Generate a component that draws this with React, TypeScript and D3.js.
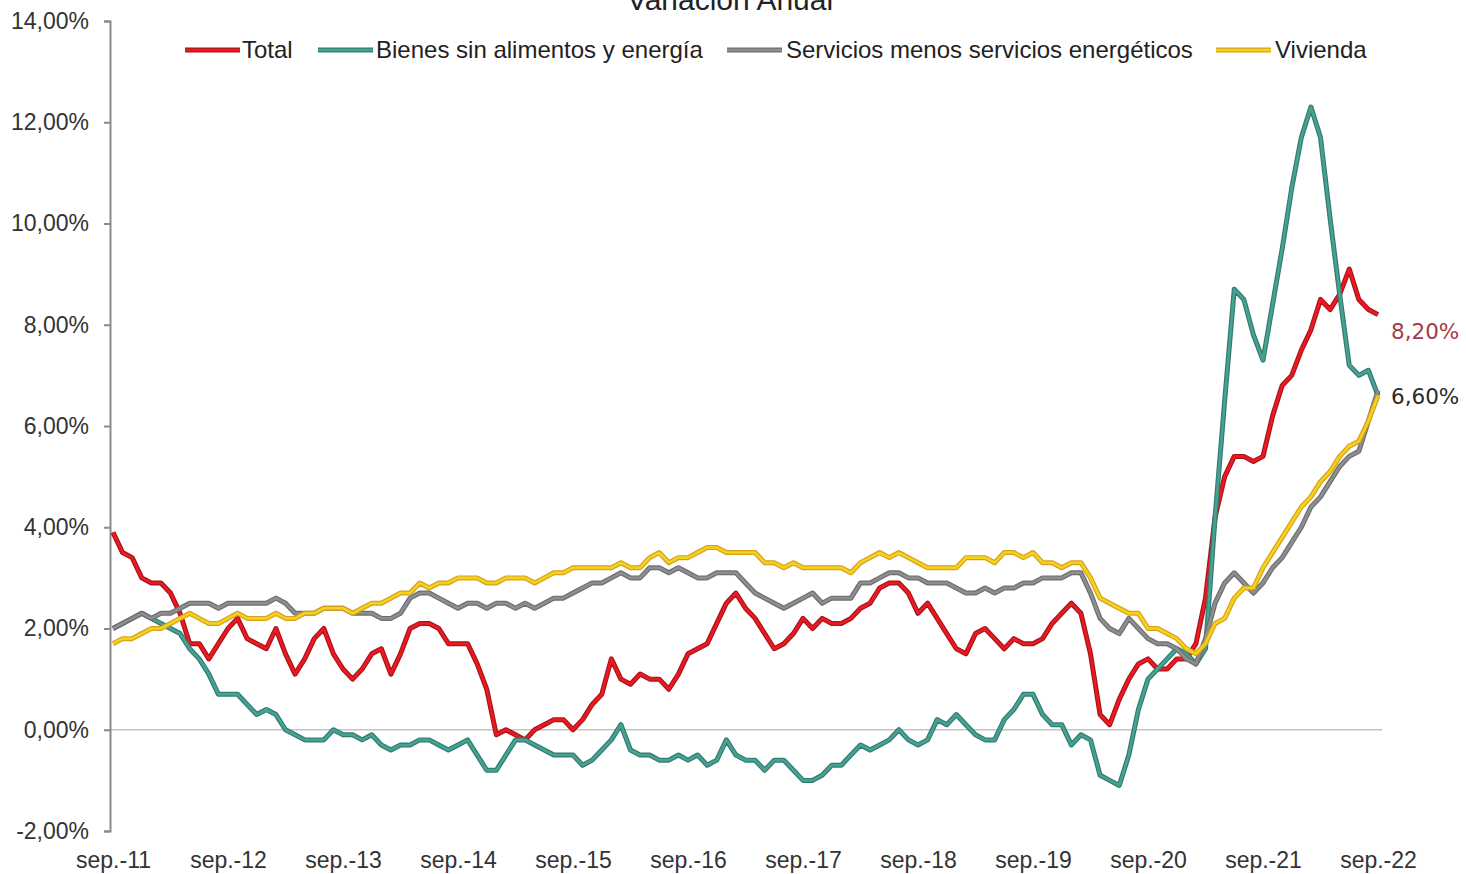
import React, { useEffect, useRef } from "react";
import * as d3 from "d3";

// monthly, sep-11 .. sep-22 (133 points)
const monthNames = ["sep.", "oct.", "nov.", "dic.", "ene.", "feb.", "mar.", "abr.", "may.", "jun.", "jul.", "ago."];
const months = d3.range(133).map((i) => `${monthNames[i % 12]}-${11 + Math.floor((i + 8) / 12)}`);
const tickLabels = ["sep.-11", "sep.-12", "sep.-13", "sep.-14", "sep.-15", "sep.-16", "sep.-17", "sep.-18", "sep.-19", "sep.-20", "sep.-21", "sep.-22"];
const yTicks = [-2, 0, 2, 4, 6, 8, 10, 12, 14];

const total = [
  3.9, 3.5, 3.4, 3.0,
  2.9, 2.9, 2.7, 2.3, 1.7, 1.7, 1.4, 1.7, 2.0, 2.2, 1.8, 1.7,
  1.6, 2.0, 1.5, 1.1, 1.4, 1.8, 2.0, 1.5, 1.2, 1.0, 1.2, 1.5,
  1.6, 1.1, 1.5, 2.0, 2.1, 2.1, 2.0, 1.7, 1.7, 1.7, 1.3, 0.8,
  -0.1, 0.0, -0.1, -0.2, 0.0, 0.1, 0.2, 0.2, 0.0, 0.2, 0.5, 0.7,
  1.4, 1.0, 0.9, 1.1, 1.0, 1.0, 0.8, 1.1, 1.5, 1.6, 1.7, 2.1,
  2.5, 2.7, 2.4, 2.2, 1.9, 1.6, 1.7, 1.9, 2.2, 2.0, 2.2, 2.1,
  2.1, 2.2, 2.4, 2.5, 2.8, 2.9, 2.9, 2.7, 2.3, 2.5, 2.2, 1.9,
  1.6, 1.5, 1.9, 2.0, 1.8, 1.6, 1.8, 1.7, 1.7, 1.8, 2.1, 2.3,
  2.5, 2.3, 1.5, 0.3, 0.1, 0.6, 1.0, 1.3, 1.4, 1.2, 1.2, 1.4,
  1.4, 1.7, 2.6, 4.2, 5.0, 5.4, 5.4, 5.3, 5.4, 6.2, 6.8, 7.0,
  7.5, 7.9, 8.5, 8.3, 8.6, 9.1, 8.5, 8.3, 8.2,
];

const bienes = [
  2.0, 2.1, 2.2, 2.3,
  2.2, 2.1, 2.0, 1.9, 1.6, 1.4, 1.1, 0.7, 0.7, 0.7, 0.5, 0.3,
  0.4, 0.3, 0.0, -0.1, -0.2, -0.2, -0.2, 0.0, -0.1, -0.1, -0.2, -0.1,
  -0.3, -0.4, -0.3, -0.3, -0.2, -0.2, -0.3, -0.4, -0.3, -0.2, -0.5, -0.8,
  -0.8, -0.5, -0.2, -0.2, -0.3, -0.4, -0.5, -0.5, -0.5, -0.7, -0.6, -0.4,
  -0.2, 0.1, -0.4, -0.5, -0.5, -0.6, -0.6, -0.5, -0.6, -0.5, -0.7, -0.6,
  -0.2, -0.5, -0.6, -0.6, -0.8, -0.6, -0.6, -0.8, -1.0, -1.0, -0.9, -0.7,
  -0.7, -0.5, -0.3, -0.4, -0.3, -0.2, 0.0, -0.2, -0.3, -0.2, 0.2, 0.1,
  0.3, 0.1, -0.1, -0.2, -0.2, 0.2, 0.4, 0.7, 0.7, 0.3, 0.1, 0.1,
  -0.3, -0.1, -0.2, -0.9, -1.0, -1.1, -0.5, 0.4, 1.0, 1.2, 1.4, 1.6,
  1.5, 1.3, 1.6, 4.2, 6.5, 8.7, 8.5, 7.8, 7.3, 8.4, 9.5, 10.7,
  11.7, 12.3, 11.7, 10.1, 8.6, 7.2, 7.0, 7.1, 6.6,
];

const servicios = [
  2.0, 2.1, 2.2, 2.3,
  2.2, 2.3, 2.3, 2.4, 2.5, 2.5, 2.5, 2.4, 2.5, 2.5, 2.5, 2.5,
  2.5, 2.6, 2.5, 2.3, 2.3, 2.3, 2.4, 2.4, 2.4, 2.3, 2.3, 2.3,
  2.2, 2.2, 2.3, 2.6, 2.7, 2.7, 2.6, 2.5, 2.4, 2.5, 2.5, 2.4,
  2.5, 2.5, 2.4, 2.5, 2.4, 2.5, 2.6, 2.6, 2.7, 2.8, 2.9, 2.9,
  3.0, 3.1, 3.0, 3.0, 3.2, 3.2, 3.1, 3.2, 3.1, 3.0, 3.0, 3.1,
  3.1, 3.1, 2.9, 2.7, 2.6, 2.5, 2.4, 2.5, 2.6, 2.7, 2.5, 2.6,
  2.6, 2.6, 2.9, 2.9, 3.0, 3.1, 3.1, 3.0, 3.0, 2.9, 2.9, 2.9,
  2.8, 2.7, 2.7, 2.8, 2.7, 2.8, 2.8, 2.9, 2.9, 3.0, 3.0, 3.0,
  3.1, 3.1, 2.7, 2.2, 2.0, 1.9, 2.2, 2.0, 1.8, 1.7, 1.7, 1.6,
  1.4, 1.3, 1.8, 2.5, 2.9, 3.1, 2.9, 2.7, 2.9, 3.2, 3.4, 3.7,
  4.0, 4.4, 4.6, 4.9, 5.2, 5.4, 5.5, 6.1, 6.7,
];

const vivienda = [
  1.7, 1.8, 1.8, 1.9,
  2.0, 2.0, 2.1, 2.2, 2.3, 2.2, 2.1, 2.1, 2.2, 2.3, 2.2, 2.2,
  2.2, 2.3, 2.2, 2.2, 2.3, 2.3, 2.4, 2.4, 2.4, 2.3, 2.4, 2.5,
  2.5, 2.6, 2.7, 2.7, 2.9, 2.8, 2.9, 2.9, 3.0, 3.0, 3.0, 2.9,
  2.9, 3.0, 3.0, 3.0, 2.9, 3.0, 3.1, 3.1, 3.2, 3.2, 3.2, 3.2,
  3.2, 3.3, 3.2, 3.2, 3.4, 3.5, 3.3, 3.4, 3.4, 3.5, 3.6, 3.6,
  3.5, 3.5, 3.5, 3.5, 3.3, 3.3, 3.2, 3.3, 3.2, 3.2, 3.2, 3.2,
  3.2, 3.1, 3.3, 3.4, 3.5, 3.4, 3.5, 3.4, 3.3, 3.2, 3.2, 3.2,
  3.2, 3.4, 3.4, 3.4, 3.3, 3.5, 3.5, 3.4, 3.5, 3.3, 3.3, 3.2,
  3.3, 3.3, 3.0, 2.6, 2.5, 2.4, 2.3, 2.3, 2.0, 2.0, 1.9, 1.8,
  1.6, 1.5, 1.7, 2.1, 2.2, 2.6, 2.8, 2.8, 3.2, 3.5, 3.8, 4.1,
  4.4, 4.6, 4.9, 5.1, 5.4, 5.6, 5.7, 6.1, 6.6,
];

const series = [
  { name: "Total", values: total, core: "#f01820", edge: "#a3161c", lx: 185, tx: 242 },
  { name: "Bienes sin alimentos y energía", values: bienes, core: "#45a393", edge: "#357a70", lx: 318, tx: 376 },
  { name: "Servicios menos servicios energéticos", values: servicios, core: "#8e8e8e", edge: "#6e6e72", lx: 727, tx: 786 },
  { name: "Vivienda", values: vivienda, core: "#f4d21c", edge: "#d6a020", lx: 1216, tx: 1275 },
];

const FONT = "'Liberation Sans', Arial, sans-serif";
const fmt = (d: number) => d.toFixed(2).replace(".", ",") + "%";

export default function App() {
  const chart = useRef<SVGSVGElement>(null);

  useEffect(() => {
    const svg = d3.select(chart.current);
    svg.selectAll("*").remove();

    const x = d3.scalePoint<string>().domain(months).range([113, 1378]);
    const y = d3.scaleLinear().domain([-2, 14]).range([831, 21]);

    // title, partly cut at the top like in the source image
    svg
      .append("text")
      .attr("x", 730)
      .attr("y", 10)
      .attr("text-anchor", "middle")
      .attr("font-family", FONT)
      .attr("font-size", 30)
      .attr("fill", "#222")
      .text("Variación Anual");

    // zero line
    svg
      .append("line")
      .attr("x1", 110)
      .attr("x2", 1382)
      .attr("y1", y(0))
      .attr("y2", y(0))
      .attr("stroke", "#c4c4c4")
      .attr("stroke-width", 1.5);

    // y axis
    const gy = svg
      .append("g")
      .attr("transform", "translate(110,0)")
      .call(d3.axisLeft(y).tickValues(yTicks).tickSize(6).tickPadding(15).tickFormat((d) => fmt(+d)));
    gy.select(".domain").attr("stroke", "#8a8a8a").attr("stroke-width", 2);
    gy.selectAll(".tick line").attr("stroke", "#8a8a8a").attr("stroke-width", 2);
    gy.selectAll(".tick text").attr("font-family", FONT).attr("font-size", 23).attr("fill", "#333");

    // x labels
    const gx = svg
      .append("g")
      .attr("transform", "translate(0,840)")
      .call(
        d3
          .axisBottom(x)
          .tickValues(months.filter((m, i) => i % 12 === 0))
          .tickSize(0)
          .tickPadding(12)
          .tickFormat((d, i) => tickLabels[i])
      );
    gx.select(".domain").remove();
    gx.selectAll(".tick text").attr("font-family", FONT).attr("font-size", 23).attr("fill", "#333");

    // lines
    series.forEach((s) => {
      const line = d3
        .line<number>()
        .x((d, i) => x(months[i]) as number)
        .y((d) => y(d));
      svg
        .append("path")
        .attr("d", line(s.values))
        .attr("fill", "none")
        .attr("stroke", s.edge)
        .attr("stroke-width", 5)
        .attr("stroke-linejoin", "round");
      svg
        .append("path")
        .attr("d", line(s.values))
        .attr("fill", "none")
        .attr("stroke", s.core)
        .attr("stroke-width", 2.6)
        .attr("stroke-linejoin", "round");
    });

    // legend
    series.forEach((s) => {
      svg
        .append("line")
        .attr("x1", s.lx)
        .attr("x2", s.lx + 55)
        .attr("y1", 50)
        .attr("y2", 50)
        .attr("stroke", s.edge)
        .attr("stroke-width", 5);
      svg
        .append("line")
        .attr("x1", s.lx)
        .attr("x2", s.lx + 55)
        .attr("y1", 50)
        .attr("y2", 50)
        .attr("stroke", s.core)
        .attr("stroke-width", 2.6);
      svg
        .append("text")
        .attr("x", s.tx)
        .attr("y", 58)
        .attr("font-family", FONT)
        .attr("font-size", 24)
        .attr("fill", "#222")
        .text(s.name);
    });

    // end labels
    svg
      .append("text")
      .attr("x", 1391)
      .attr("y", y(total[total.length - 1]) + 24)
      .attr("font-family", "'DejaVu Sans', sans-serif")
      .attr("font-size", 21.5)
      .attr("fill", "#a63a46")
      .text(fmt(total[total.length - 1]));
    svg
      .append("text")
      .attr("x", 1391)
      .attr("y", y(vivienda[vivienda.length - 1]) + 8)
      .attr("font-family", "'DejaVu Sans', sans-serif")
      .attr("font-size", 21.5)
      .attr("fill", "#2a2a2a")
      .text(fmt(vivienda[vivienda.length - 1]));
  });

  return (
    <svg
      ref={chart}
      width={1466}
      height={874}
      style={{ position: "absolute", left: 0, top: 0, background: "#fff" }}
    ></svg>
  );
}
